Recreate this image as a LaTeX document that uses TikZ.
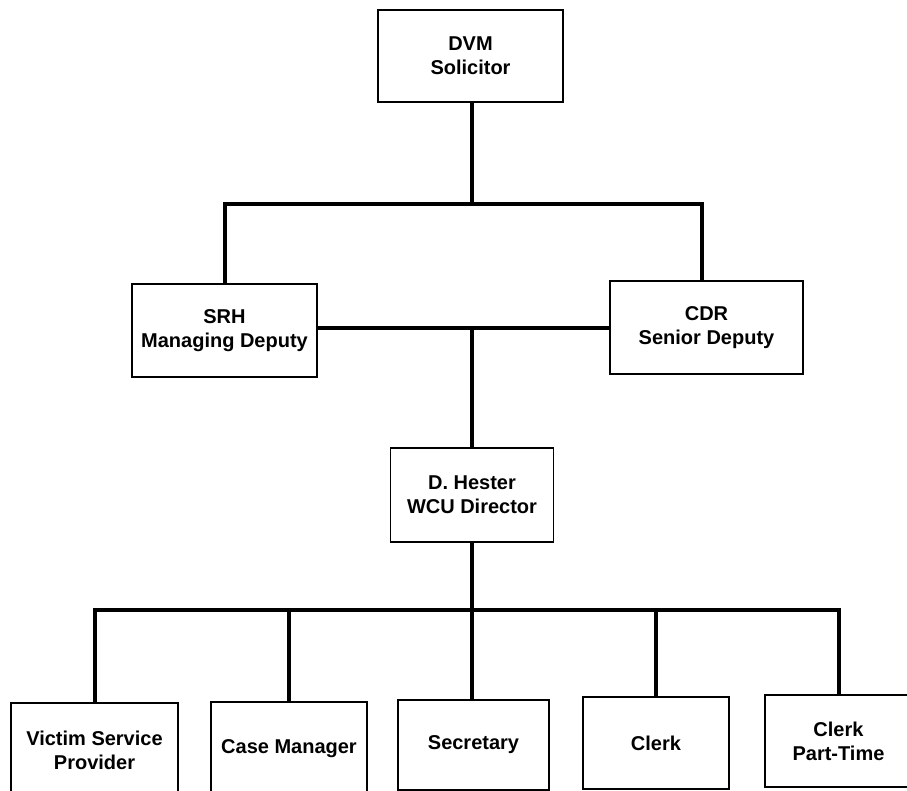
\documentclass[tikz,border=0pt]{standalone}
\usepackage{fontspec}
\setmainfont{Liberation Sans}
\begin{document}
\begin{tikzpicture}[x=1pt,y=-1pt,
  box/.style={draw=black,line width=1.3pt,fill=white,align=center,inner sep=0pt,
    font=\bfseries\fontsize{20}{24}\selectfont},
  conn/.style={draw=black,line width=4pt,line join=miter}]
\useasboundingbox[fill=white] (0,0) rectangle (907,791);
% nodes
\node[box,minimum width=185pt,minimum height=92pt] (dvm) at (470.5,56) {DVM\\Solicitor};
\node[box,minimum width=185pt,minimum height=93pt] (srh) at (224.5,330.5) {SRH\\Managing Deputy};
\node[box,minimum width=193pt,minimum height=93pt] (cdr) at (706.5,327.5) {CDR\\Senior Deputy};
\node[box,minimum width=163pt,minimum height=94pt] (hes) at (472,495) {D. Hester\\WCU Director};
\node[box,minimum width=167pt,minimum height=94pt] (vsp) at (94.5,750) {Victim Service\\Provider};
\node[box,minimum width=156pt,minimum height=94pt] (cm) at (289,749) {Case Manager};
\node[box,minimum width=151pt,minimum height=90pt] (sec) at (473.5,745) {Secretary};
\node[box,minimum width=146pt,minimum height=92pt] (clk) at (656,743) {Clerk};
\node[box,minimum width=147pt,minimum height=92pt] (pt) at (838.5,741) {Clerk\\Part-Time};
% junctions
\coordinate (top) at (472,204);
\coordinate (mid) at (472,328);
\coordinate (bus) at (472,610);
% connectors
\draw[conn] (dvm.south -| top) -- (top);
\draw[conn] (srh.north) -- (srh.north |- top) -- ([xshift=-4.5pt]cdr.north |- top) -- ([xshift=-4.5pt]cdr.north);
\draw[conn] (srh.east |- mid) -- (cdr.west |- mid);
\draw[conn] (mid) -- (hes.north);
\draw[conn] (hes.south) -- (hes.south |- sec.north);
\draw[conn] (vsp.north) -- (vsp.north |- bus) -- (pt.north |- bus) -- (pt.north);
\draw[conn] (cm.north |- bus) -- (cm.north);
\draw[conn] (clk.north |- bus) -- (clk.north);
\end{tikzpicture}
\end{document}
